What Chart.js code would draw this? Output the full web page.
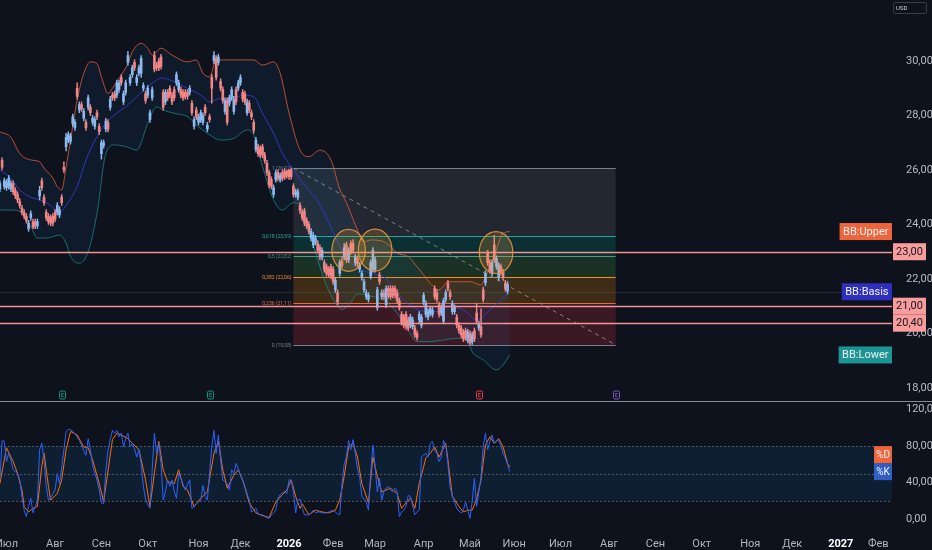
<!DOCTYPE html>
<html>
<head>
<meta charset="utf-8">
<script src="https://cdn.jsdelivr.net/npm/chart.js@4.4.1/dist/chart.umd.min.js"></script>
<style>
  html, body { margin: 0; padding: 0; background: #0e121c; overflow: hidden; }
  #wrap { position: relative; width: 932px; height: 550px; }
  canvas { position: absolute; left: 0; }
  #main { top: 0; width: 932px; height: 401px; }
  #osc { top: 401px; width: 932px; height: 149px; }
</style>
</head>
<body>
<div id="wrap">
  <canvas id="main" width="932" height="401"></canvas>
  <canvas id="osc" width="932" height="149"></canvas>
</div>
<script>
// daily bars, index 0 = first trading day of July 2025
const firstBar = -3;
const opens = [
  25.3,26.35,25.4,25.35,25.4,25.3,25.5,25.25,25.1,24.85,
  24.6,24.45,24.3,23.85,24.25,24.1,24.1,23.95,25.05,25.6,
  25.0,24.45,24.3,24.25,24.3,24.45,24.45,24.35,25.0,26.1,
  26.85,27.1,27.05,27.7,27.55,29.0,28.2,28.4,27.9,27.75,
  28.3,28.3,27.75,27.6,28.1,27.6,26.6,26.9,27.5,27.75,
  28.3,28.75,28.8,28.75,28.95,29.4,28.5,28.85,29.95,29.2,
  29.5,29.95,29.2,29.55,29.55,29.0,28.8,28.75,27.85,28.65,
  30.2,29.85,30.0,30.15,28.85,28.5,28.85,29.0,28.75,28.95,
  29.2,28.95,28.95,28.85,28.85,28.85,28.85,28.45,27.6,28.2,
  27.75,27.85,27.75,28.3,27.5,27.95,29.4,30.0,30.1,29.95,
  29.25,28.95,28.15,28.55,28.45,28.65,28.15,28.95,29.0,29.2,
  28.85,28.8,28.1,28.45,28.1,27.75,26.75,26.85,26.8,26.85,
  26.55,26.25,25.9,25.65,25.1,25.65,25.9,25.65,25.9,25.95,
  25.95,26.0,26.0,25.4,25.1,25.0,24.7,24.45,24.5,24.15,
  24.0,23.5,23.25,23.35,23.3,23.15,22.8,22.6,22.45,22.35,
  22.45,22.35,21.6,21.5,22.2,22.65,22.8,23.25,22.7,23.3,
  23.3,22.6,22.75,22.35,22.05,21.6,21.35,21.25,22.1,22.35,
  22.35,20.95,22.15,21.35,21.5,21.05,21.65,21.65,21.65,21.65,
  21.5,21.2,20.7,20.6,20.7,20.5,20.3,20.25,20.2,20.0,
  20.5,20.3,21.15,20.7,20.6,20.75,20.7,21.65,21.5,21.05,
  20.75,20.45,21.25,21.85,21.5,20.8,20.8,20.6,20.3,20.2,
  20.05,20.1,19.75,20.0,19.7,20.1,20.75,20.2,20.25,21.6,
  21.85,22.95,22.6,22.2,23.25,22.45,22.05,22.45,22.25,21.85,
  21.55
];
const highs = [
  25.6,26.45,25.7,25.65,25.8,25.6,25.6,25.35,25.2,24.95,
  24.7,24.55,24.4,24.15,24.5,24.2,24.2,24.2,25.4,25.7,
  25.1,24.55,24.4,24.35,24.4,24.55,24.8,24.65,25.1,26.3,
  27.35,27.4,27.35,28.05,27.85,29.2,28.5,28.5,28.25,27.85,
  28.75,28.4,28.0,27.95,28.2,27.7,27.1,27.1,27.9,27.85,
  28.7,28.85,28.9,29.3,29.3,29.5,28.9,29.3,30.35,29.5,
  29.85,30.05,29.5,29.85,30.2,29.2,28.9,29.1,28.2,29.05,
  30.35,29.95,30.1,30.25,28.95,28.95,28.95,29.1,28.85,29.05,
  29.6,29.3,29.05,28.95,28.95,28.95,29.1,28.55,27.95,28.3,
  28.05,28.2,28.1,28.4,27.75,28.05,29.5,30.35,30.2,30.25,
  29.35,29.05,28.65,28.65,28.75,29.05,28.7,29.05,29.3,29.5,
  28.95,28.9,28.6,28.55,28.2,27.85,27.2,26.95,26.9,26.95,
  26.65,26.35,26.0,25.75,25.45,26.0,26.0,25.9,26.0,26.05,
  26.0,26.02,26.07,25.5,25.3,25.3,24.8,24.55,24.6,24.25,
  24.1,23.85,23.7,23.6,23.4,23.25,23.15,22.7,22.55,22.45,
  22.55,22.45,22.05,21.6,22.7,22.8,23.3,23.35,23.15,23.4,
  23.45,22.9,22.85,22.6,22.3,22.0,21.6,21.5,22.7,23.15,
  22.8,21.7,22.25,21.6,21.6,21.75,21.75,21.75,21.75,21.75,
  21.6,21.3,20.8,20.7,20.8,20.6,20.7,20.6,20.3,20.1,
  20.8,20.7,21.5,21.2,20.9,21.0,20.95,21.75,21.6,21.15,
  21.05,21.3,21.6,21.95,21.6,21.2,21.05,20.7,20.4,20.3,
  20.15,20.2,20.15,20.1,20.05,20.2,21.1,20.45,20.9,21.7,
  22.3,23.05,22.7,22.7,23.6,22.85,22.6,22.55,22.35,21.95,
  21.9
];
const lows = [
  25.2,26.0,25.3,25.25,25.3,25.2,25.1,24.95,24.8,24.6,
  24.35,24.2,24.05,23.75,24.15,23.85,23.85,23.85,24.9,25.25,
  24.7,24.15,24.0,23.95,23.95,24.1,24.35,24.25,24.7,25.9,
  26.7,27.0,26.95,27.6,27.45,28.6,28.1,28.15,27.8,27.45,
  28.2,28.0,27.65,27.5,27.85,27.3,26.4,26.8,27.4,27.4,
  28.2,28.55,28.55,28.65,28.85,29.1,28.4,28.75,29.85,29.1,
  29.4,29.65,29.1,29.45,29.4,28.9,28.45,28.65,27.75,28.55,
  29.6,29.65,29.65,29.7,28.2,28.4,28.55,28.65,28.4,28.55,
  29.1,28.85,28.65,28.55,28.6,28.6,28.75,28.0,27.5,27.85,
  27.65,27.75,27.65,28.0,27.4,27.75,28.45,29.9,29.3,29.85,
  28.9,28.45,28.05,27.65,28.35,28.55,28.05,28.4,28.9,29.1,
  28.5,28.4,28.0,28.1,27.85,27.35,26.65,26.5,26.45,26.45,
  26.25,25.8,25.35,25.3,25.0,25.55,25.6,25.55,25.6,25.65,
  25.7,25.65,25.65,25.0,25.0,24.9,24.4,24.15,23.95,23.85,
  23.65,23.4,23.15,23.25,22.95,22.7,22.7,22.25,22.1,22.05,
  22.0,21.8,21.5,21.05,22.1,22.4,22.7,22.6,22.6,22.9,
  22.95,22.5,22.45,22.25,21.95,21.5,21.25,21.15,22.0,22.25,
  22.25,20.85,21.8,21.25,21.25,20.95,21.3,21.25,21.3,21.3,
  21.1,20.85,20.3,20.2,20.15,20.1,20.2,20.15,19.85,19.75,
  20.4,20.2,21.05,20.6,20.5,20.65,20.6,21.25,21.15,20.6,
  20.65,20.35,21.15,21.55,21.25,20.7,20.7,20.2,20.0,19.85,
  19.7,19.75,19.65,19.58,19.6,19.7,20.35,20.1,19.85,21.15,
  21.75,22.5,22.2,22.1,22.6,22.35,21.95,22.15,21.95,21.55,
  21.45
];
const closes = [
  25.5,26.1,25.6,25.55,25.7,25.5,25.2,25.05,24.9,24.7,
  24.45,24.3,24.15,24.05,24.4,23.9,23.95,24.1,25.25,25.35,
  24.8,24.25,24.1,24.05,24.05,24.2,24.7,24.55,24.8,26.0,
  27.2,27.3,27.25,27.95,27.75,28.7,28.4,28.25,28.15,27.55,
  28.65,28.1,27.9,27.85,27.95,27.4,27.0,27.0,27.8,27.5,
  28.6,28.65,28.65,29.2,29.2,29.2,28.8,29.2,30.2,29.4,
  29.75,29.75,29.4,29.75,30.1,29.1,28.55,29.0,28.1,28.95,
  29.7,29.75,29.75,29.8,28.3,28.85,28.65,28.75,28.5,28.65,
  29.5,29.2,28.75,28.65,28.7,28.7,29.0,28.1,27.85,27.95,
  27.95,28.1,28.0,28.1,27.65,27.85,29.0,30.2,29.4,30.15,
  29.0,28.55,28.55,27.75,28.65,28.95,28.6,28.5,29.2,29.4,
  28.6,28.5,28.5,28.2,27.95,27.45,27.1,26.6,26.55,26.55,
  26.35,25.9,25.45,25.4,25.35,25.9,25.7,25.8,25.7,25.75,
  25.8,25.75,25.75,25.1,25.2,25.2,24.5,24.25,24.05,23.95,
  23.75,23.75,23.6,23.5,23.05,22.8,23.05,22.35,22.2,22.15,
  22.1,21.9,21.95,21.15,22.6,22.5,23.15,22.7,23.05,23.0,
  23.05,22.8,22.55,22.5,22.2,21.9,21.5,21.4,22.6,23.05,
  22.7,21.6,21.9,21.5,21.35,21.65,21.4,21.35,21.4,21.4,
  21.2,20.95,20.4,20.3,20.25,20.2,20.6,20.5,19.95,19.85,
  20.7,20.6,21.4,21.1,20.8,20.9,20.85,21.35,21.25,20.7,
  20.95,21.2,21.5,21.65,21.35,21.1,20.95,20.3,20.1,19.95,
  19.8,19.85,20.05,19.65,19.95,19.8,20.45,20.35,19.95,21.25,
  22.2,22.6,22.3,22.6,22.7,22.75,22.5,22.25,22.05,21.65,
  21.8
];

// Bollinger bands
const upperBars = [-3,2,6,11,15,17,21,23,25,27,29,32,35,38,41,43,46,48,51,55,57,61,64,66,70,75,82,86,89,92,95,100,112,116,121,124,128,133,137,142,147,151,154,158,162,165,171,174,177,182,186,189,192,196,200,204,210,215,217,220,222,225,228];
const upperVals = [27.4,27.2,26.6,26.37,26.3,26.07,25.7,25.39,25.27,26.12,27.1,28.57,29.55,29.97,29.91,29.42,28.81,29.0,29.36,29.91,30.34,30.65,30.47,30.22,30.47,30.22,29.97,30.04,29.55,29.42,30.04,30.04,30.04,29.85,29.97,29.55,28.1,26.73,26.49,26.73,26.37,25.3,24.8,24.0,23.37,23.43,23.37,23.19,22.95,22.82,22.45,22.15,21.84,21.6,21.9,21.9,21.9,21.78,22.07,22.6,23.1,23.68,23.74];
const basisBars = [-3,2,6,11,15,20,24,27,32,36,41,45,50,54,59,64,68,70,76,82,88,92,97,103,107,112,116,121,125,130,134,141,147,153,159,166,171,177,184,190,195,201,207,213,219,224,228];
const basisVals = [26.0,25.7,25.27,25.0,24.9,24.7,24.42,24.7,25.39,26.37,27.22,27.72,28.09,28.32,28.69,29.06,29.3,29.38,29.24,29.0,28.75,28.5,28.63,28.63,28.75,28.69,28.08,27.35,26.61,26.0,25.55,24.85,23.9,22.9,22.4,22.2,22.08,21.47,20.98,20.8,20.8,20.98,20.86,20.5,20.86,21.23,21.53];
const lowerBars = [-3,2,6,11,14,18,24,27,29,33,37,41,45,49,54,59,64,68,71,76,82,86,91,97,103,109,112,116,121,125,130,133,136,141,145,150,152,156,159,166,171,177,181,186,192,198,204,209,211,216,222,225,228];
const lowerVals = [24.53,24.53,24.47,23.92,23.5,23.5,23.61,23.31,22.82,22.58,23.0,24.41,26.6,26.92,26.86,26.73,27.71,28.32,28.2,28.08,27.96,27.65,27.35,27.1,27.16,27.47,27.28,26.12,24.9,24.53,24.8,24.7,24.0,22.7,21.75,21.0,20.88,21.15,21.45,21.35,21.23,20.74,20.25,19.7,19.7,19.76,19.82,19.7,19.33,19.03,18.66,18.84,19.21];

// Stochastic %K (one value per bar from firstBar) and %D
const kVals = [
  43,86,85,63,72,65,54,52,50,43,
  25,10,3,14,23,7,14,21,76,83,
  65,36,21,23,28,32,50,39,57,76,
  96,98,98,96,93,90,86,81,75,70,
  88,76,59,50,43,32,18,17,54,75,
  87,97,94,97,90,94,79,88,94,79,
  83,77,68,76,61,36,22,16,12,54,
  94,72,83,61,21,30,43,36,43,30,
  23,50,45,38,32,38,43,12,14,17,
  19,21,37,25,21,50,79,97,72,92,
  65,43,41,39,32,54,50,61,55,48,
  42,36,28,21,8,10,12,6,5,5,
  3,2,1,5,7,10,23,27,29,30,
  28,43,43,30,7,21,22,12,5,5,
  5,7,10,7,8,8,7,7,7,8,
  9,10,8,6,5,39,60,68,86,76,
  87,72,55,46,25,22,19,10,50,81,
  58,30,45,21,30,34,36,32,30,34,
  30,3,8,10,14,26,25,15,5,8,
  10,68,70,72,68,83,85,75,72,63,
  68,86,81,60,35,26,19,12,9,7,
  10,19,10,1,20,45,14,30,46,80,
  94,76,85,92,83,85,87,80,72,67,
  60,52
];
const dBars = [-3,-1,0,2,3,5,7,8,10,12,14,16,17,19,20,23,25,27,29,32,35,37,39,42,44,45,48,50,52,55,57,60,63,65,67,69,71,73,76,78,80,82,85,88,91,94,96,98,100,103,105,107,110,113,115,119,122,125,127,129,131,133,134,137,140,143,146,149,151,153,155,157,159,161,164,166,168,170,172,174,177,179,181,183,185,187,190,192,194,196,199,200,202,205,207,209,211,213,215,217,219,221,223,225,227,228];
const dVals = [39,65,78,68,63,50,32,14,8,12,14,58,72,36,21,28,43,76,96,92,79,78,65,39,19,36,87,94,92,88,83,76,43,14,50,85,54,41,39,54,36,32,14,23,30,72,85,54,34,48,54,43,18,7,5,2,19,27,32,43,25,12,17,5,10,8,7,10,21,47,79,83,68,39,18,68,47,30,32,34,28,12,18,23,12,39,67,72,79,68,83,65,25,14,8,10,10,22,43,81,90,83,88,79,61,57];

// axis ticks
const priceTicks = [18, 20, 22, 24, 26, 28, 30];
const oscTicks = [0, 40, 80, 120];
const monthBars = [0,22,43,64,87,106,128,148,167,189,210,230,251,273,294,315,337,356,378,395];
const monthLabels = ['Июл','Авг','Сен','Окт','Ноя','Дек','2026','Фев','Мар','Апр','Май','Июн','Июл','Авг','Сен','Окт','Ноя','Дек','2027','Фев'];

// drawings
const fibHigh = 26.07, fibLow = 19.58, fibStartBar = 130, fibEndBar = 276;
const fibLevels = [1, 0.618, 0.5, 0.382, 0.236, 0];
const hLines = [23.00, 21.00, 20.40];
// [center bar, center price, half width in bars, half height in price]
const circles = [[155, 23.05, 7.6, 0.77], [167, 23.06, 7.6, 0.77], [221.8, 22.97, 7.6, 0.77]];
const eventBars = [25, 92, 214, 276];
const eventColors = ['#089981', '#089981', '#f23645', '#7e57c2'];
const stochBand = [80, 50, 20];

const X_MIN = -2.95, X_MAX = 401.2;
const upColor = '#8cb9ee', downColor = '#f28585';

const fmt = v => v.toFixed(2).replace('.', ',');

Chart.defaults.font.family = 'Roboto, "Noto Sans", sans-serif';
Chart.defaults.color = '#b2b5be';

const pts = (bars, vals) => bars.map((b, k) => ({x: b, y: vals[k]}));
const bodies = opens.map((o, k) => ({x: firstBar + k, y: [Math.min(o, closes[k]), Math.max(o, closes[k])]}));
const wicks = opens.map((o, k) => ({x: firstBar + k, y: [lows[k], highs[k]]}));
const candleColors = opens.map((o, k) => closes[k] >= o ? upColor : downColor);

function tag(ctx, text, left, right, cy, fill, color, font) {
  ctx.font = font || '11px Roboto';
  let w = ctx.measureText(text).width + 7;
  if (left === null) left = right - w; else w = right - left;
  ctx.fillStyle = fill;
  ctx.fillRect(left, cy - 8.5, w, 17);
  ctx.fillStyle = color;
  ctx.textAlign = 'center';
  ctx.textBaseline = 'middle';
  ctx.fillText(text, left + w / 2, cy + 0.5);
}

const fibZoneColors = ['rgba(120,123,134,0.2)', 'rgba(8,153,129,0.22)', 'rgba(76,175,80,0.2)', 'rgba(255,152,0,0.2)', 'rgba(242,54,69,0.2)'];
const fibLineColors = ['#7d808a', '#1fa9a0', '#4f9a84', '#f0922b', '#ec6a45', '#7d808a'];

const mainPlugin = {
  id: 'mainDrawings',
  beforeDatasetsDraw(chart) {
    const {ctx, scales: {x, y}} = chart;
    const x0 = x.getPixelForValue(fibStartBar), x1 = x.getPixelForValue(fibEndBar);
    const prices = fibLevels.map(l => fibLow + l * (fibHigh - fibLow));
    ctx.save();
    for (let k = 0; k < fibLevels.length - 1; k++) {
      const yA = y.getPixelForValue(prices[k]), yB = y.getPixelForValue(prices[k + 1]);
      ctx.fillStyle = fibZoneColors[k];
      ctx.fillRect(x0, yA, x1 - x0, yB - yA);
    }
    ctx.lineWidth = 1;
    fibLevels.forEach((l, k) => {
      const yy = Math.round(y.getPixelForValue(prices[k])) + 0.5;
      ctx.strokeStyle = fibLineColors[k];
      ctx.beginPath(); ctx.moveTo(x0, yy); ctx.lineTo(x1, yy); ctx.stroke();
      ctx.fillStyle = fibLineColors[k];
      ctx.font = '5px Roboto';
      ctx.textAlign = 'right';
      ctx.textBaseline = 'middle';
      ctx.fillText(String(l).replace('.', ',') + ' (' + fmt(prices[k]) + ')', x0 - 2, yy);
    });
    ctx.setLineDash([4, 4]);
    ctx.strokeStyle = 'rgba(150,153,162,0.8)';
    ctx.beginPath();
    ctx.moveTo(x0, y.getPixelForValue(fibHigh));
    ctx.lineTo(x1, y.getPixelForValue(fibLow));
    ctx.stroke();
    ctx.restore();
  },
  afterDatasetsDraw(chart) {
    const {ctx, chartArea: a, scales: {x, y}} = chart;
    ctx.save();
    // faint line at the last basis value
    let yy = Math.round(y.getPixelForValue(basisVals[basisVals.length - 1])) + 0.5;
    ctx.strokeStyle = 'rgba(120,123,134,0.22)';
    ctx.lineWidth = 1;
    ctx.beginPath(); ctx.moveTo(a.left, yy); ctx.lineTo(a.right, yy); ctx.stroke();
    // horizontal levels
    ctx.strokeStyle = '#ee9494';
    ctx.lineWidth = 1.5;
    hLines.forEach(v => {
      const py = Math.round(y.getPixelForValue(v)) + 0.5;
      ctx.beginPath(); ctx.moveTo(a.left, py); ctx.lineTo(a.right, py); ctx.stroke();
    });
    // circles
    circles.forEach(([cb, cp, hw, hh]) => {
      const cx = x.getPixelForValue(cb), cy = y.getPixelForValue(cp);
      const rx = x.getPixelForValue(cb + hw) - cx, ry = cy - y.getPixelForValue(cp + hh);
      ctx.beginPath();
      ctx.ellipse(cx, cy, rx, ry, 0, 0, Math.PI * 2);
      ctx.fillStyle = 'rgba(255,160,50,0.2)';
      ctx.fill();
      ctx.strokeStyle = 'rgba(232,150,60,0.9)';
      ctx.lineWidth = 1.2;
      ctx.stroke();
    });
    ctx.restore();
  },
  afterDraw(chart) {
    const {ctx, chartArea: a, scales: {x, y}} = chart;
    ctx.save();
    // event markers
    eventBars.forEach((b, k) => {
      const px = Math.round(x.getPixelForValue(b)) + 0.5, top = a.bottom - 10;
      ctx.fillStyle = '#0e121c';
      ctx.strokeStyle = eventColors[k];
      ctx.lineWidth = 1;
      ctx.beginPath();
      ctx.roundRect(px - 3, top, 6, 8, 1.5);
      ctx.fill(); ctx.stroke();
      ctx.fillStyle = eventColors[k];
      ctx.font = 'bold 5px Roboto';
      ctx.textAlign = 'center';
      ctx.textBaseline = 'middle';
      ctx.fillText('E', px, top + 4.3);
    });
    // indicator tags
    tag(ctx, 'BB:Upper', null, a.right, y.getPixelForValue(upperVals[upperVals.length - 1]), '#f0643c', '#f4f4f6');
    tag(ctx, 'BB:Basis', null, a.right, y.getPixelForValue(basisVals[basisVals.length - 1]), '#2e2fbf', '#f4f4f6');
    tag(ctx, 'BB:Lower', null, a.right, y.getPixelForValue(lowerVals[lowerVals.length - 1]), '#1c9494', '#e8f2f2');
    // level price tags
    let prevBottom = -100;
    hLines.forEach(v => {
      let cy = y.getPixelForValue(v);
      if (cy - 8.5 < prevBottom) cy = prevBottom + 8.5;
      tag(ctx, fmt(v), a.right + 1, a.right + 34, cy, '#f89c9c', '#131722');
      prevBottom = cy + 8.5;
    });
    // currency box
    ctx.fillStyle = '#0e121c';
    ctx.strokeStyle = '#3a3e4a';
    ctx.lineWidth = 1;
    ctx.beginPath();
    ctx.roundRect(a.right + 1.5, 2.5, 33, 11, 2);
    ctx.fill(); ctx.stroke();
    ctx.fillStyle = '#d1d4dc';
    ctx.font = '6px Roboto';
    ctx.textAlign = 'left';
    ctx.textBaseline = 'middle';
    ctx.fillText('USD', a.right + 4, 8.3);
    ctx.restore();
  }
};

new Chart(document.getElementById('main'), {
  type: 'bar',
  data: {
    datasets: [
      {type: 'bar', data: bodies, backgroundColor: candleColors, barThickness: 2, grouped: false, order: 0},
      {type: 'bar', data: wicks, backgroundColor: candleColors, barThickness: 0.8, grouped: false, order: 1},
      {type: 'line', data: pts(upperBars, upperVals), borderColor: 'rgba(236,98,60,0.75)', borderWidth: 1,
        pointRadius: 0, cubicInterpolationMode: 'monotone', fill: '+2', backgroundColor: 'rgba(33,150,243,0.07)', order: 3},
      {type: 'line', data: pts(basisBars, basisVals), borderColor: 'rgba(52,58,205,0.9)', borderWidth: 1,
        pointRadius: 0, cubicInterpolationMode: 'monotone', fill: false, order: 2},
      {type: 'line', data: pts(lowerBars, lowerVals), borderColor: 'rgba(30,145,145,0.7)', borderWidth: 1,
        pointRadius: 0, cubicInterpolationMode: 'monotone', fill: false, order: 3}
    ]
  },
  options: {
    responsive: false,
    animation: false,
    events: [],
    layout: {padding: 0},
    plugins: {legend: {display: false}, tooltip: {enabled: false}},
    scales: {
      x: {type: 'linear', min: X_MIN, max: X_MAX, offset: false, display: false},
      y: {
        position: 'right', min: 17.52, max: 32.24, offset: false,
        afterFit(s) { s.width = 40; s.paddingTop = 0; s.paddingBottom = 0; },
        afterBuildTicks(s) { s.ticks = priceTicks.map(v => ({value: v})); },
        grid: {display: false}, border: {display: false},
        ticks: {color: '#b8bbc4', font: {size: 11}, padding: 6, callback: v => fmt(v)}
      }
    }
  },
  plugins: [mainPlugin]
});

const oscPlugin = {
  id: 'oscDrawings',
  beforeDatasetsDraw(chart) {
    const {ctx, chartArea: a, scales: {y}} = chart;
    const yTop = y.getPixelForValue(stochBand[0]), yBot = y.getPixelForValue(stochBand[2]);
    ctx.save();
    ctx.fillStyle = 'rgba(33,150,243,0.1)';
    ctx.fillRect(a.left, yTop, a.right - a.left, yBot - yTop);
    ctx.strokeStyle = 'rgba(120,123,134,0.6)';
    ctx.setLineDash([2, 2]);
    ctx.lineWidth = 1;
    stochBand.forEach(v => {
      const yy = Math.round(y.getPixelForValue(v)) + 0.5;
      ctx.beginPath(); ctx.moveTo(a.left, yy); ctx.lineTo(a.right, yy); ctx.stroke();
    });
    ctx.restore();
  },
  afterDraw(chart) {
    const {ctx, chartArea: a, scales: {y}} = chart;
    ctx.save();
    ctx.strokeStyle = '#868a94';
    ctx.lineWidth = 1;
    ctx.beginPath(); ctx.moveTo(0, 0.5); ctx.lineTo(chart.width, 0.5); ctx.stroke();
    const ky = y.getPixelForValue(kVals[kVals.length - 1]);
    tag(ctx, '%K', a.right - 18, a.right, ky, '#2f5fc4', '#f4f4f6', '10px Roboto');
    tag(ctx, '%D', a.right - 18, a.right, ky - 17, '#f0643c', '#f4f4f6', '10px Roboto');
    ctx.restore();
  }
};

new Chart(document.getElementById('osc'), {
  type: 'line',
  data: {
    datasets: [
      {data: kVals.map((v, k) => ({x: firstBar + k, y: v})), borderColor: '#2962ff', borderWidth: 1, pointRadius: 0, tension: 0},
      {data: pts(dBars, dVals), borderColor: '#ff6d00', borderWidth: 1, pointRadius: 0, tension: 0}
    ]
  },
  options: {
    responsive: false,
    animation: false,
    events: [],
    layout: {padding: {top: 1, left: 0, right: 0, bottom: 0}},
    plugins: {legend: {display: false}, tooltip: {enabled: false}},
    scales: {
      x: {
        type: 'linear', min: X_MIN, max: X_MAX, offset: false,
        afterBuildTicks(s) { s.ticks = monthBars.map(v => ({value: v})); },
        afterFit(s) { s.height = 23; s.paddingLeft = 0; s.paddingRight = 0; },
        grid: {display: false}, border: {display: false},
        ticks: {
          autoSkip: false, maxRotation: 0, padding: 3,
          color: c => /^\d{4}$/.test(monthLabels[c.index]) ? '#ffffff' : '#b2b5be',
          font: c => ({size: 11, weight: /^\d{4}$/.test(monthLabels[c.index]) ? 'bold' : 'normal'}),
          callback: (v, i) => monthLabels[i]
        }
      },
      y: {
        position: 'right', min: -8.36, max: 128, offset: false,
        afterFit(s) { s.width = 40; s.paddingTop = 0; s.paddingBottom = 0; },
        afterBuildTicks(s) { s.ticks = oscTicks.map(v => ({value: v})); },
        grid: {display: false}, border: {display: false},
        ticks: {color: '#b8bbc4', font: {size: 11}, padding: 6, callback: v => fmt(v)}
      }
    }
  },
  plugins: [oscPlugin]
});
</script>
</body>
</html>
